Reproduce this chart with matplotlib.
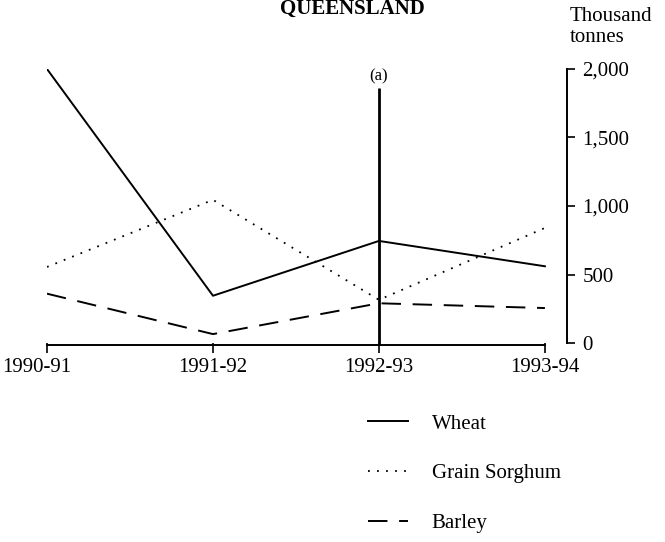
import matplotlib.pyplot as plt
import matplotlib.transforms as mtransforms
from matplotlib.ticker import FuncFormatter

plt.rcParams['font.family'] = ['Liberation Serif', 'DejaVu Serif']

# Queensland crop production, thousand tonnes
years = ['1990-91', '1991-92', '1992-93', '1993-94']
wheat = [2000, 345, 745, 560]
sorghum = [555, 1045, 315, 840]
barley = [360, 65, 290, 255]

fig = plt.figure(figsize=(6.65, 5.42), dpi=100)
ax = fig.add_axes([47 / 665, 199 / 542, 520 / 665, 274 / 542])

x = list(range(len(years)))
ax.plot(x, wheat, color='black', lw=1.4, label='Wheat')
ax.plot(x, sorghum, color='black', lw=1.3, ls=(0, (1, 4)), label='Grain Sorghum')
ax.plot(x, barley, color='black', lw=1.4, ls=(0, (10, 6)), label='Barley')

# break in series (a)
ax.vlines(2, -10, 1860, color='black', lw=2, clip_on=False)
ax.text(2, 1890, '(a)', ha='center', va='bottom', fontsize=12)

ax.set_xlim(0, 3.133)
ax.set_ylim(0, 2000)

# x axis line only between first and last year
ax.spines['bottom'].set_visible(False)
ax.spines['top'].set_visible(False)
ax.spines['left'].set_visible(False)
ax.plot([0, 3], [-12, -12], color='black', lw=1.4, clip_on=False)
ax.set_xticks(x)
ax.set_xticklabels(years, fontsize=15)
ax.tick_params(axis='x', length=7, width=1.2, direction='out', pad=4)
off = mtransforms.ScaledTranslation(-10 / 100, 0, fig.dpi_scale_trans)
lab0 = ax.get_xticklabels()[0]
lab0.set_transform(lab0.get_transform() + off)

ax.spines['right'].set_linewidth(1.4)
ax.yaxis.tick_right()
ax.set_yticks([0, 500, 1000, 1500, 2000])
ax.yaxis.set_major_formatter(FuncFormatter(lambda v, p: f'{int(v):,}'))
ax.tick_params(axis='y', length=6, width=1.2, direction='out', pad=5, labelsize=15)

fig.text(352 / 665, 1 - 9 / 542, 'QUEENSLAND', ha='center', va='center',
         fontsize=15, fontweight='bold')
fig.text(570 / 665, 1 - 7 / 542, 'Thousand\ntonnes', ha='left', va='top',
         fontsize=15, linespacing=1.15)

fig.legend(loc='upper left', bbox_to_anchor=(368 / 665, 1 - 414 / 542),
           frameon=False, fontsize=15, borderpad=0, borderaxespad=0,
           handlelength=1.9, handletextpad=1.15, labelspacing=1.45)

fig.savefig('out.png', dpi=100)
